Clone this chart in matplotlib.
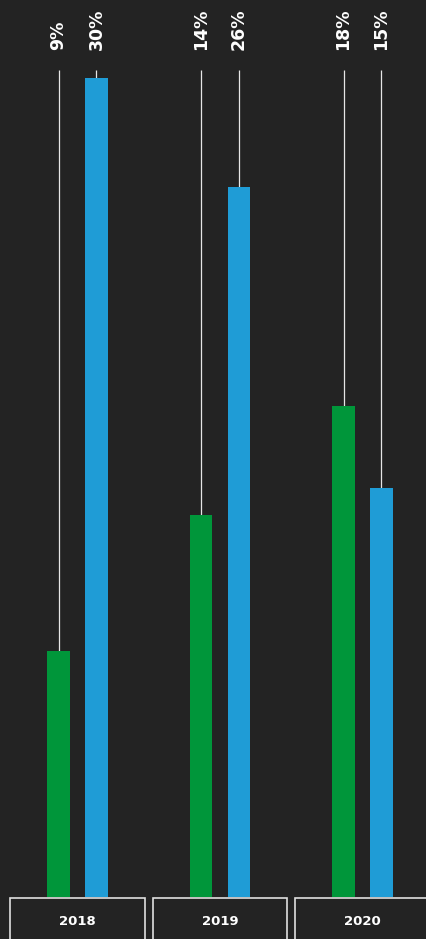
import matplotlib.pyplot as plt
from matplotlib.patches import Rectangle
import numpy as np

years = ["2018", "2019", "2020"]
green_vals = [9, 14, 18]
blue_vals = [30, 26, 15]

BG = "#232323"
GREEN = "#00963a"
BLUE = "#1f9cd6"

plt.rcParams['font.family'] = ['DejaVu Sans']

fig = plt.figure(figsize=(4.26, 9.39), dpi=100, facecolor=BG)
ax = fig.add_axes([0, 42 / 939, 1, 897 / 939])
ax.set_facecolor(BG)

x = np.arange(len(years))
off = 0.1333
width = 0.161

line_top = 30.29
label_y = 31.03

for xs, vals, col in [(x - off, green_vals, GREEN), (x + off, blue_vals, BLUE)]:
    ax.vlines(xs, 0, line_top, color="#e6e6e6", lw=0.9, zorder=1)
    ax.bar(xs, vals, width=width, color=col, zorder=2)
    for xi, v in zip(xs, vals):
        ax.text(xi, label_y, f"{v}%", rotation=90, ha="center", va="bottom",
                color="white", fontsize=12.5, fontweight="bold")

# year boxes along the bottom
box_w = 0.947
for xi, yr in zip(x, years):
    ax.add_patch(Rectangle((xi - box_w / 2, -3), box_w, 3 - 0.04, fill=False,
                           edgecolor="#e0e0e0", lw=1.2, clip_on=False))
    ax.text(xi, -0.88, yr, ha="center", va="center", color="white",
            fontsize=9.5, fontweight="bold")

ax.set_xlim(-77.5 / 142.5, (426 - 77.5) / 142.5)
ax.set_ylim(0, 897 / 27.3)
ax.axis("off")

fig.savefig("out.png", dpi=100, facecolor=BG)
